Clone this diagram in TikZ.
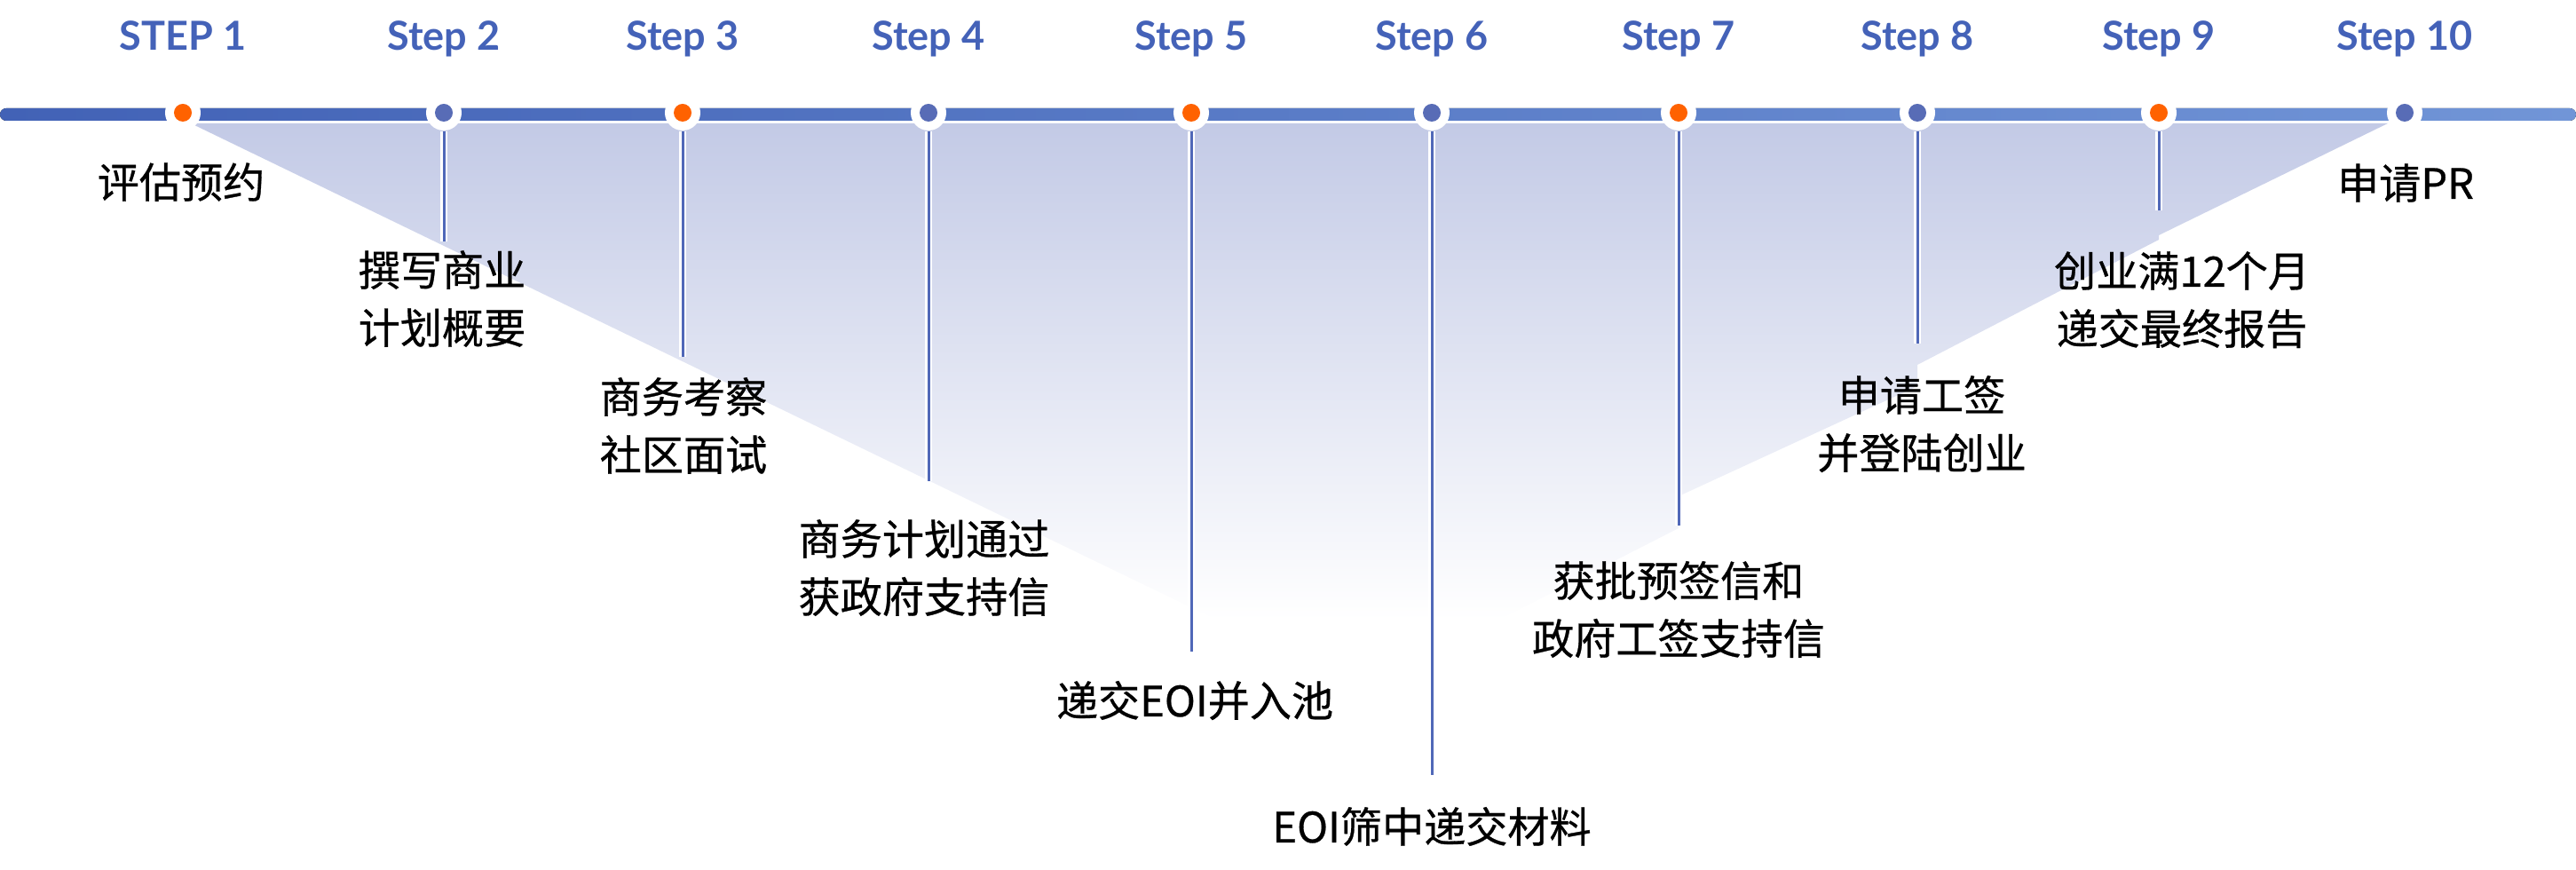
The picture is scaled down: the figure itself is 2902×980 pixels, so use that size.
\documentclass[tikz,border=0pt]{standalone}
\usepackage{fontspec}
\setmainfont{Lato}
\newfontfamily\cjk{Noto Sans CJK SC}[FakeBold=0.6]
\definecolor{stepblue}{RGB}{68,98,184}
\definecolor{lineL}{RGB}{66,98,182}
\definecolor{lineR}{RGB}{113,149,215}
\definecolor{dotO}{RGB}{255,98,0}
\definecolor{dotB}{RGB}{88,108,182}
\definecolor{conn}{RGB}{80,104,184}
\definecolor{gradtop}{RGB}{195,202,230}
\pgfdeclareverticalshading{fanshade}{100bp}{color(0bp)=(white); color(32bp)=(white); color(75bp)=(gradtop); color(100bp)=(gradtop)}
\tikzset{
  ring/.style={circle,fill=white,minimum size=0.4cm,inner sep=0pt},
  dotorange/.style={circle,fill=dotO,minimum size=0.2cm,inner sep=0pt},
  dotblue/.style={circle,fill=dotB,minimum size=0.2cm,inner sep=0pt},
  steplbl/.style={anchor=base,text=stepblue,inner sep=0pt,font=\bfseries\fontsize{12.8pt}{14pt}\selectfont},
  lbl/.style={anchor=base,align=center,inner sep=0pt,font=\cjk\fontsize{13.4pt}{18.5pt}\selectfont},
  connw/.style={white,line width=0.08cm},
  connb/.style={conn,line width=0.03cm},
}
\begin{document}
\begin{tikzpicture}[x=0.01cm,y=-0.01cm]
\useasboundingbox (0,0) rectangle (2902,980);
% gradient fan
\shade[shading=fanshade]
  (215,139) -- (2690,139) -- (2432,265) -- (2432,270) -- (2160,411) -- (2160,435)
  -- (1891,559) -- (1891,595) -- (1613,737) -- (1560,790) -- cycle;
% main bar
\fill[left color=lineL,right color=lineR,rounded corners=0.07cm] (0,122) rectangle (2902,136);
% rings and dots
\foreach \i/\x/\s in {1/206/dotorange,2/500/dotblue,3/769/dotorange,4/1046/dotblue,5/1342/dotorange,6/1613/dotblue,7/1891/dotorange,8/2160/dotblue,9/2432/dotorange,10/2709/dotblue}{
  \node[ring] (r\i) at (\x,127) {};
  \node[\s] (d\i) at (\x,127) {};
}
% connector ends
\coordinate (e2) at (500,272);
\coordinate (e3) at (769,402);
\coordinate (e4) at (1046,542);
\coordinate (e5) at (1342,734);
\coordinate (e6) at (1613,873);
\coordinate (e7) at (1891,592);
\coordinate (e8) at (2160,387);
\coordinate (e9) at (2432,237);
\foreach \i in {2,...,9}{
  \draw[connw] (r\i) -- (e\i);
  \draw[connb] (r\i) -- (e\i);
}
% step labels
\node[steplbl] (s1) at (206,57) {STEP 1};
\node[steplbl] (s2) at (500,57) {Step 2};
\node[steplbl] (s3) at (769,57) {Step 3};
\node[steplbl] (s4) at (1046,57) {Step 4};
\node[steplbl] (s5) at (1342,57) {Step 5};
\node[steplbl] (s6) at (1613,57) {Step 6};
\node[steplbl] (s7) at (1891,57) {Step 7};
\node[steplbl] (s8) at (2160,57) {Step 8};
\node[steplbl] (s9) at (2432,57) {Step 9};
\node[steplbl] (s10) at (2709,57) {Step 10};
% text labels (base anchor = baseline of last line)
\node[lbl] (t1) at (204,223) {评估预约};
\node[lbl] (t2) at (498,387) {撰写商业\\计划概要};
\node[lbl] (t3) at (770,530) {商务考察\\社区面试};
\node[lbl] (t4) at (1041,690) {商务计划通过\\获政府支持信};
\node[lbl] (t5) at (1346,807) {递交EOI并入池};
\node[lbl] (t6) at (1613,949) {EOI筛中递交材料};
\node[lbl] (t7) at (1891,737) {获批预签信和\\政府工签支持信};
\node[lbl] (t8) at (2165,528) {申请工签\\并登陆创业};
\node[lbl] (t9) at (2458,388) {创业满12个月\\递交最终报告};
\node[lbl] (t10) at (2710,224) {申请PR};
\end{tikzpicture}
\end{document}
